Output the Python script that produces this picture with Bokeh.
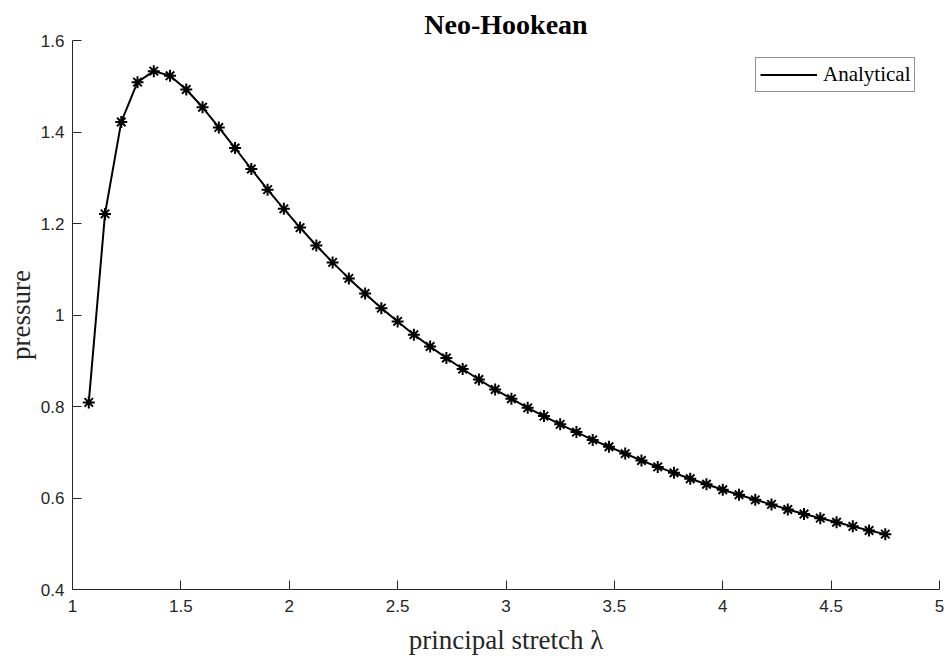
from bokeh.plotting import figure
from bokeh.models import Range1d, FixedTicker, Legend, LegendItem
from bokeh.embed import file_html
from bokeh.resources import INLINE

# principal stretch values and corresponding inflation pressure
stretch = [
    1.075, 1.150, 1.225, 1.300, 1.375, 1.450, 1.525, 1.600, 1.675, 1.750,
    1.825, 1.900, 1.975, 2.050, 2.125, 2.200, 2.275, 2.350, 2.425, 2.500,
    2.575, 2.650, 2.725, 2.800, 2.875, 2.950, 3.025, 3.100, 3.175, 3.250,
    3.325, 3.400, 3.475, 3.550, 3.625, 3.700, 3.775, 3.850, 3.925, 4.000,
    4.075, 4.150, 4.225, 4.300, 4.375, 4.450, 4.525, 4.600, 4.675, 4.750,
]
pressure = [
    0.809, 1.221, 1.422, 1.509, 1.533, 1.523, 1.493, 1.454, 1.410, 1.365,
    1.319, 1.274, 1.232, 1.191, 1.152, 1.115, 1.080, 1.047, 1.015, 0.986,
    0.957, 0.931, 0.906, 0.882, 0.859, 0.837, 0.817, 0.797, 0.779, 0.761,
    0.744, 0.727, 0.712, 0.697, 0.682, 0.668, 0.655, 0.642, 0.630, 0.618,
    0.607, 0.596, 0.586, 0.575, 0.565, 0.556, 0.547, 0.538, 0.529, 0.521,
]

x_ticks = [1, 1.5, 2, 2.5, 3, 3.5, 4, 4.5, 5]
x_tick_labels = ["1", "1.5", "2", "2.5", "3", "3.5", "4", "4.5", "5"]
y_ticks = [0.4, 0.6, 0.8, 1.0, 1.2, 1.4, 1.6]
y_tick_labels = ["0.4", "0.6", "0.8", "1", "1.2", "1.4", "1.6"]

AXIS_COLOR = "#262626"
SERIF = "Liberation Serif"
SANS = "Liberation Sans"

p = figure(
    width=949, height=660,
    x_range=Range1d(1, 5), y_range=Range1d(0.4, 1.6),
    output_backend="svg", toolbar_location=None,
    min_border_left=72, min_border_right=10,
    min_border_top=40, min_border_bottom=71,
    title="Neo-Hookean",
)
p.outline_line_color = None
p.grid.visible = False
p.background_fill_color = "white"
p.border_fill_color = "white"

p.title.text_font = SERIF
p.title.text_font_size = "28px"
p.title.text_font_style = "bold"
p.title.text_color = "black"
p.title.align = "center"
p.title.standoff = 2

for ax, ticks, labels in ((p.xaxis[0], x_ticks, x_tick_labels),
                          (p.yaxis[0], y_ticks, y_tick_labels)):
    ax.ticker = FixedTicker(ticks=ticks)
    ax.major_label_overrides = {t: s for t, s in zip(ticks, labels)}
    ax.axis_line_color = AXIS_COLOR
    ax.axis_line_width = 1
    ax.major_tick_line_color = AXIS_COLOR
    ax.major_tick_in = 9
    ax.major_tick_out = 0
    ax.minor_tick_line_color = None
    ax.major_label_text_font = SANS
    ax.major_label_text_font_size = "17px"
    ax.major_label_text_color = AXIS_COLOR
    ax.axis_label_text_font = SERIF
    ax.axis_label_text_font_size = "27px"
    ax.axis_label_text_font_style = "normal"
    ax.axis_label_text_color = AXIS_COLOR

p.xaxis.axis_label = "principal stretch λ"
p.xaxis.major_label_standoff = 10
p.xaxis.axis_label_standoff = 10
p.yaxis.axis_label = "pressure"
p.yaxis.major_label_standoff = 8
p.yaxis.axis_label_standoff = 2

curve = p.line(stretch, pressure, line_color="black", line_width=2)
p.scatter(stretch, pressure, marker="asterisk", size=12,
          line_color="black", line_width=2)

# legend box anchored by its lower-left corner, in pixels from the frame's lower-left
legend = Legend(
    items=[LegendItem(label="Analytical", renderers=[curve])],
    location=(683, 497),
    label_text_font=SERIF, label_text_font_size="21px", label_text_color="black",
    label_height=23, glyph_height=23,
    glyph_width=57, label_standoff=6, padding=4, margin=0, spacing=0,
    border_line_color=AXIS_COLOR, border_line_width=1,
    background_fill_color="white", background_fill_alpha=1.0,
)
p.add_layout(legend, "center")

open("out.html", "w").write(file_html(p, INLINE))
